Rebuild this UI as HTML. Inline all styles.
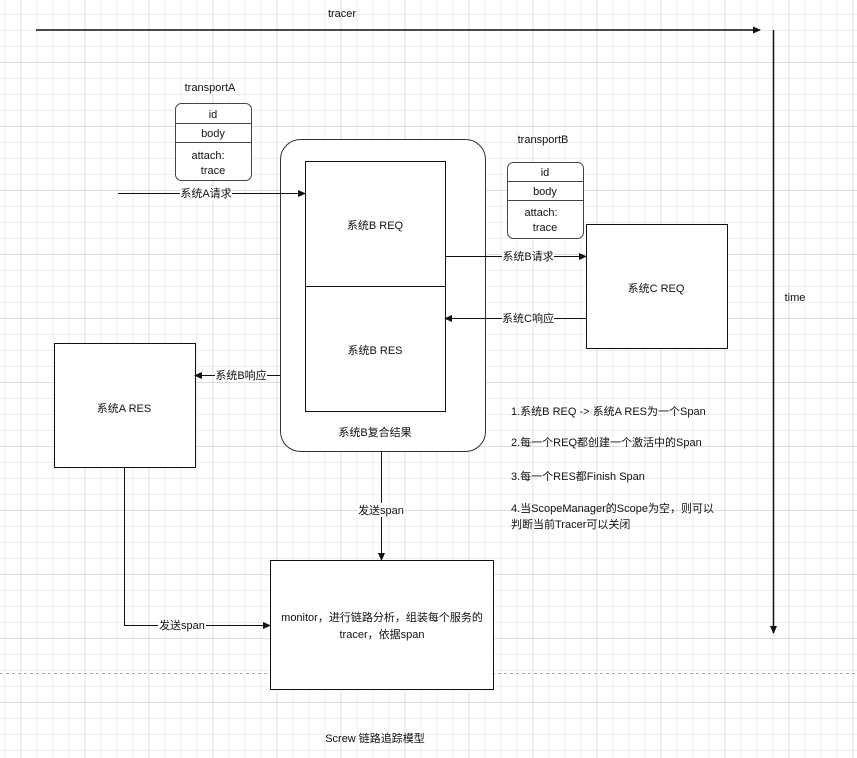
<!DOCTYPE html>
<html><head><meta charset="utf-8"><style>
html,body{margin:0;padding:0;background:#fff}
svg{display:block}
text{font-family:"Liberation Sans","Noto Sans CJK SC",sans-serif;font-size:11px;fill:#111}
</style></head><body>
<svg width="857" height="758" viewBox="0 0 857 758" xmlns="http://www.w3.org/2000/svg">
<defs>
<pattern id="g" x="4.7" y="14.3" width="16" height="16" patternUnits="userSpaceOnUse">
<path d="M0 0H16M0 0V16" stroke="#dedede" stroke-width="1" fill="none"/>
</pattern>
<pattern id="G" x="20.7" y="62" width="64" height="64" patternUnits="userSpaceOnUse">
<path d="M0 0H64M0 0V64" stroke="#cfcfcf" stroke-width="1" fill="none"/>
</pattern>
<marker id="a" markerWidth="8" markerHeight="8" refX="7" refY="4" orient="auto" markerUnits="userSpaceOnUse">
<path d="M0 0.5L8 4L0 7.5Z" fill="#111"/>
</marker>
</defs>
<rect width="857" height="758" fill="url(#g)"/>
<rect width="857" height="758" fill="url(#G)"/>
<line x1="0" y1="673.5" x2="857" y2="673.5" stroke="#aaa" stroke-dasharray="3,3"/>

<g stroke="#111" fill="none" stroke-width="1">
<line x1="36" y1="30" x2="760" y2="30" stroke-width="1.5" marker-end="url(#a)"/>
<line x1="773.5" y1="30" x2="773.5" y2="633" stroke-width="1.5" marker-end="url(#a)"/>
</g>
<text x="342" y="17" text-anchor="middle">tracer</text>
<text x="795" y="301" text-anchor="middle">time</text>

<text x="210" y="91" text-anchor="middle">transportA</text>
<rect x="175.5" y="103.5" width="76" height="77" rx="6" fill="#fff" stroke="#444"/>
<line x1="175.5" y1="123.5" x2="251.5" y2="123.5" stroke="#444"/>
<line x1="175.5" y1="142.5" x2="251.5" y2="142.5" stroke="#444"/>
<text x="213" y="118" text-anchor="middle">id</text>
<text x="213" y="137" text-anchor="middle">body</text>
<text x="208" y="159" text-anchor="middle">attach:</text>
<text x="213" y="174" text-anchor="middle">trace</text>

<text x="543" y="143" text-anchor="middle">transportB</text>
<rect x="507.5" y="162.5" width="76" height="76" rx="6" fill="#fff" stroke="#444"/>
<line x1="507.5" y1="181.5" x2="583.5" y2="181.5" stroke="#444"/>
<line x1="507.5" y1="200.5" x2="583.5" y2="200.5" stroke="#444"/>
<text x="545" y="176" text-anchor="middle">id</text>
<text x="545" y="195" text-anchor="middle">body</text>
<text x="541" y="216" text-anchor="middle">attach:</text>
<text x="545" y="231" text-anchor="middle">trace</text>

<rect x="280.5" y="139.5" width="205" height="312" rx="20" fill="#fff" stroke="#333"/>
<rect x="305.5" y="161.5" width="140" height="125" fill="#fff" stroke="#111"/>
<rect x="305.5" y="286.5" width="140" height="125" fill="#fff" stroke="#111"/>
<text x="375" y="229" text-anchor="middle">系统B REQ</text>
<text x="375" y="354" text-anchor="middle">系统B RES</text>
<text x="375" y="436" text-anchor="middle">系统B复合结果</text>

<rect x="586.5" y="224.5" width="141" height="124" fill="#fff" stroke="#111"/>
<text x="656" y="292" text-anchor="middle">系统C REQ</text>

<rect x="54.5" y="343.5" width="141" height="124" fill="#fff" stroke="#111"/>
<text x="124" y="412" text-anchor="middle">系统A RES</text>

<rect x="270.5" y="560.5" width="223" height="129" fill="#fff" stroke="#111"/>
<text x="382" y="621" text-anchor="middle">monitor，进行链路分析，组装每个服务的</text>
<text x="382" y="638" text-anchor="middle">tracer，依据span</text>

<g stroke="#111" fill="none">
<line x1="118" y1="193.5" x2="305" y2="193.5" marker-end="url(#a)"/>
<line x1="445" y1="256.5" x2="586" y2="256.5" marker-end="url(#a)"/>
<line x1="586" y1="318.5" x2="445" y2="318.5" marker-end="url(#a)"/>
<line x1="280" y1="375.5" x2="195" y2="375.5" marker-end="url(#a)"/>
<line x1="381.5" y1="451" x2="381.5" y2="560" marker-end="url(#a)"/>
<polyline points="124.5,467 124.5,625.5 270,625.5" marker-end="url(#a)"/>
</g>
<g>
<rect x="180" y="186" width="52" height="14" fill="#fff"/>
<text x="206" y="197" text-anchor="middle">系统A请求</text>
<rect x="502" y="249" width="52" height="14" fill="#fff"/>
<text x="528" y="260" text-anchor="middle">系统B请求</text>
<rect x="502" y="311" width="52" height="14" fill="#fff"/>
<text x="528" y="322" text-anchor="middle">系统C响应</text>
<rect x="215" y="368" width="52" height="14" fill="#fff"/>
<text x="241" y="379" text-anchor="middle">系统B响应</text>
<rect x="357" y="503" width="48" height="14" fill="#fff"/>
<text x="381" y="514" text-anchor="middle">发送span</text>
<rect x="158" y="618" width="48" height="14" fill="#fff"/>
<text x="182" y="629" text-anchor="middle">发送span</text>
</g>

<text x="511" y="415">1.系统B REQ -&gt; 系统A RES为一个Span</text>
<text x="511" y="446">2.每一个REQ都创建一个激活中的Span</text>
<text x="511" y="480">3.每一个RES都Finish Span</text>
<text x="511" y="512">4.当ScopeManager的Scope为空，则可以</text>
<text x="511" y="528">判断当前Tracer可以关闭</text>

<text x="375" y="742" text-anchor="middle">Screw 链路追踪模型</text>
</svg>
</body></html>
